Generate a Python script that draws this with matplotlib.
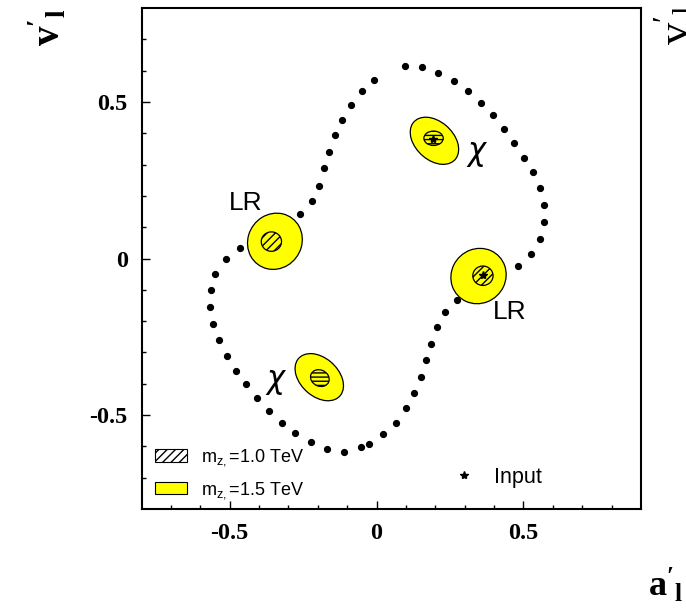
import matplotlib
matplotlib.use("Agg")
import matplotlib.pyplot as plt
from matplotlib.patches import Ellipse, Patch
from matplotlib.lines import Line2D
import numpy as np

plt.rcParams['axes.unicode_minus'] = False

# ===== DATA =====
# model-independent boundary (dots), going clockwise from the top
bound_a = [0.096, 0.153, 0.210, 0.262, 0.311, 0.355, 0.397, 0.434, 0.469, 0.501,
           0.531, 0.555, 0.569, 0.569, 0.555, 0.524, 0.482, 0.274, 0.232, 0.204,
           0.185, 0.168, 0.150, 0.128, 0.099, 0.065, 0.023, -0.027, -0.054, -0.112,
           -0.169, -0.224, -0.276, -0.323, -0.366, -0.406, -0.443, -0.479, -0.509, -0.536,
           -0.558, -0.568, -0.565, -0.549, -0.512, -0.465, -0.260, -0.221, -0.196, -0.179,
           -0.163, -0.143, -0.118, -0.086, -0.051, -0.008]
bound_v = [0.615, 0.612, 0.593, 0.567, 0.534, 0.498, 0.457, 0.415, 0.370, 0.322,
           0.276, 0.225, 0.171, 0.117, 0.061, 0.014, -0.024, -0.133, -0.171, -0.220,
           -0.272, -0.325, -0.379, -0.429, -0.478, -0.524, -0.562, -0.591, -0.603, -0.617,
           -0.608, -0.587, -0.557, -0.524, -0.486, -0.446, -0.402, -0.358, -0.311, -0.261,
           -0.209, -0.156, -0.100, -0.048, -0.002, 0.033, 0.142, 0.185, 0.233, 0.288,
           0.339, 0.393, 0.443, 0.490, 0.534, 0.571]

models = ['LR', 'LR', 'chi', 'chi']

# 1.5 TeV regions
big_a = [-0.346, 0.347, 0.197, -0.195]
big_v = [0.055, -0.056, 0.376, -0.379]
big_w = [0.190, 0.190, 0.185, 0.185]
big_h = [0.176, 0.175, 0.125, 0.125]
big_ang = [30, 20, -38, -38]

# 1.0 TeV regions
small_a = [-0.358, 0.362, 0.194, -0.193]
small_v = [0.054, -0.055, 0.384, -0.382]
small_w = [0.069, 0.069, 0.066, 0.065]
small_h = [0.062, 0.062, 0.046, 0.052]
small_ang = [0, 0, 0, -20]

# input couplings
input_a = [0.362, 0.191]
input_v = [-0.053, 0.382]

# model labels
lab_text = ['LR', 'LR', 'χ', 'χ']
lab_a = [-0.446, 0.452, 0.338, -0.343]
lab_v = [0.177, -0.172, 0.338, -0.389]

fig = plt.figure(figsize=(6.86, 6.12), dpi=100)
ax = fig.add_axes([0.2063, 0.1683, 0.7281, 0.8186])

ax.plot(bound_a, bound_v, ls='none', marker='o', ms=4.2, color='black', zorder=2)

for i in range(len(models)):
    ax.add_patch(Ellipse((big_a[i], big_v[i]), big_w[i], big_h[i], angle=big_ang[i],
                         facecolor='#ffff00', edgecolor='black', lw=0.9, zorder=3))
    hatch = '////' if models[i] == 'LR' else '----'
    ax.add_patch(Ellipse((small_a[i], small_v[i]), small_w[i], small_h[i], angle=small_ang[i],
                         facecolor='none', edgecolor='black', lw=0.9, hatch=hatch, zorder=4))

ax.plot(input_a, input_v, ls='none', marker='*', ms=6, color='black', zorder=5)

for t, a, v in zip(lab_text, lab_a, lab_v):
    if t == 'χ':
        ax.text(a, v, t, fontsize=22, style='italic', family='DejaVu Sans',
                ha='center', va='center', zorder=6)
    else:
        ax.text(a, v, t, fontsize=19, family='Liberation Sans',
                ha='center', va='center', zorder=6)

ax.set_xlim(-0.8, 0.9)
ax.set_ylim(-0.8, 0.8)
ax.set_xticks([-0.5, 0, 0.5])
ax.set_yticks([-0.5, 0, 0.5])
ax.set_xticklabels(['-0.5', '0', '0.5'])
ax.set_yticklabels(['-0.5', '0', '0.5'])
ax.set_xticks(np.arange(-0.7, 0.9, 0.1), minor=True)
ax.set_yticks(np.arange(-0.7, 0.8, 0.1), minor=True)
ax.tick_params(which='both', direction='in', top=False, right=False, width=1.0)
ax.tick_params(which='major', length=5.5, pad=10)
ax.tick_params(which='minor', length=3)
for lbl in ax.get_xticklabels() + ax.get_yticklabels():
    lbl.set_fontfamily('Liberation Serif')
    lbl.set_fontweight('bold')
    lbl.set_fontsize(17.5)
for s in ax.spines.values():
    s.set_linewidth(1.5)

# legend for the two Z' masses
handles = [Patch(facecolor='white', edgecolor='black', hatch='////', lw=0.8),
           Patch(facecolor='#ffff00', edgecolor='black', lw=0.8)]
labels = [r"m$_{\mathregular{z,}}$=1.0 TeV", r"m$_{\mathregular{z,}}$=1.5 TeV"]
leg1 = ax.legend(handles, labels, loc='lower left', bbox_to_anchor=(0.027, 0.016),
                 frameon=False, borderpad=0, borderaxespad=0,
                 handlelength=1.75, handleheight=0.7, handletextpad=0.8,
                 labelspacing=0.65, prop={'family': 'Liberation Sans', 'size': 13})
ax.add_artist(leg1)

star = Line2D([], [], ls='none', marker='*', ms=6, color='black')
ax.legend([star], ['Input'], loc='center left', bbox_to_anchor=(0.624, 0.063),
          frameon=False, borderpad=0, borderaxespad=0, handlelength=1.0,
          handletextpad=0.9, prop={'family': 'Liberation Sans', 'size': 15.5})

# axis titles
fig.text(28/686, 1 - 8/612, r"$\mathregular{v'_l}$", rotation=90, ha='left', va='top',
         family='Liberation Serif', weight='bold', fontsize=28)
fig.text(653/686, 1 - 4/612, r"$\mathregular{v'_l}$", rotation=90, ha='left', va='top',
         family='Liberation Serif', fontsize=32)
fig.text(648/686, 1 - 566/612, r"$\mathregular{a'_l}$", ha='left', va='top',
         family='Liberation Serif', weight='bold', fontsize=26)

fig.savefig('out.png', dpi=100)
